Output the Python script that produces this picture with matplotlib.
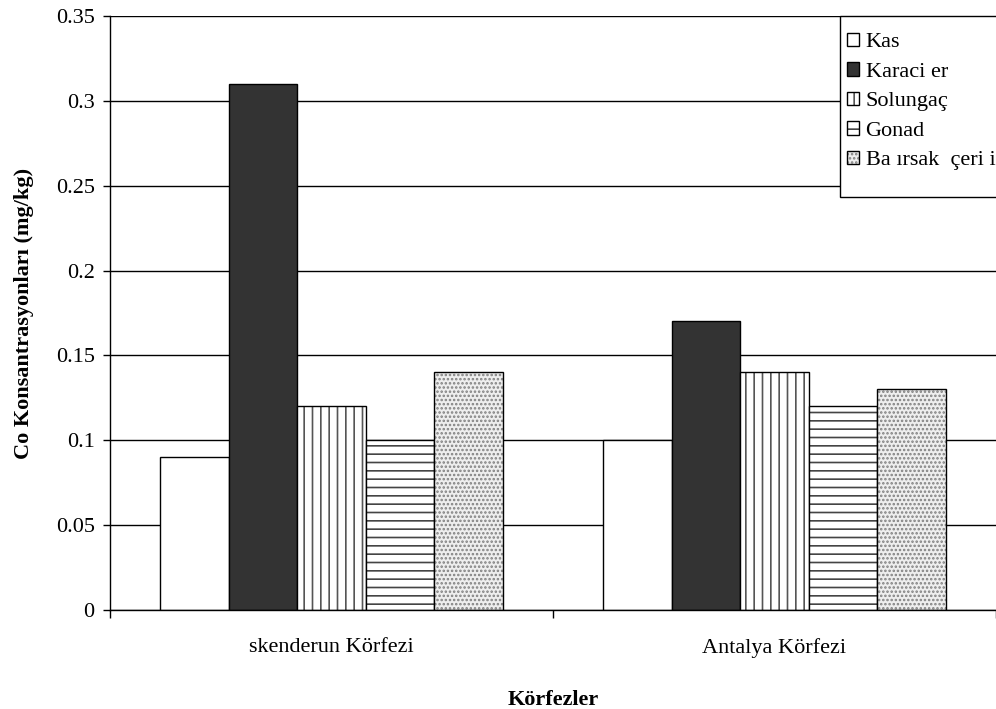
import matplotlib
matplotlib.use("Agg")
import matplotlib.pyplot as plt
from matplotlib.patches import Rectangle
import numpy as np

plt.rcParams['font.family'] = ['Liberation Serif', 'DejaVu Serif']
plt.rcParams['hatch.linewidth'] = 1.2

# Gulf names and tissue series
categories = ["skenderun Körfezi", "Antalya Körfezi"]
series_names = ["Kas", "Karaci er", "Solungaç", "Gonad", "Ba ırsak  çeri i"]
kas = [0.09, 0.10]
karaciger = [0.31, 0.17]
solungac = [0.12, 0.14]
gonad = [0.10, 0.12]
bagirsak = [0.14, 0.13]
values = [kas, karaciger, solungac, gonad, bagirsak]
yticks = [0, 0.05, 0.1, 0.15, 0.2, 0.25, 0.3, 0.35]
ytick_labels = ["0", "0.05", "0.1", "0.15", "0.2", "0.25", "0.3", "0.35"]

styles = [
    dict(facecolor="white", hatch=None, hatchcolor="black"),
    dict(facecolor="#333333", hatch=None, hatchcolor="black"),
    dict(facecolor="white", hatch="||", hatchcolor="#555555"),
    dict(facecolor="white", hatch="--", hatchcolor="#444444"),
    dict(facecolor="#eeeeee", hatch="....", hatchcolor="#808080"),
]

FS = 16
W, H = 996, 709

fig = plt.figure(figsize=(W / 100, H / 100), dpi=100)
ax = fig.add_axes([110 / W, 1 - 610 / H, 1 - 110 / W, (610 - 16) / H])

x = np.arange(len(categories))
width = 0.155
for i, (name, vals, st) in enumerate(zip(series_names, values, styles)):
    bars = ax.bar(x + (i - 2) * width, vals, width, color=st["facecolor"],
                  edgecolor="black", linewidth=1.0, label=name,
                  hatch=st["hatch"], zorder=2)
    if st["hatch"]:
        for b in bars:
            b._hatch_color = matplotlib.colors.to_rgba(st["hatchcolor"])

ax.set_xlim(-0.5, 1.5)
ax.set_ylim(0, 0.35)
ax.set_yticks(yticks)
ax.set_yticklabels(ytick_labels, fontsize=FS)
ax.yaxis.grid(True, color="black", linewidth=1.0, zorder=0)
ax.set_axisbelow(True)

ax.set_xticks(x)
ax.set_xticklabels(categories, fontsize=FS)
ax.set_xticks([-0.5, 0.5, 1.5], minor=True)
ax.tick_params(axis="x", which="major", length=0, pad=20)
ax.tick_params(axis="x", which="minor", length=6, width=1.0, direction="out")
ax.tick_params(axis="y", length=5, width=1.0, direction="out", pad=6)

for side in ["top", "right"]:
    ax.spines[side].set_visible(False)
ax.spines["left"].set_linewidth(1.0)
ax.spines["bottom"].set_linewidth(1.0)

ax.set_ylabel("Co Konsantrasyonları (mg/kg)", fontsize=FS, fontweight="bold", labelpad=16)
ax.set_xlabel("Körfezler", fontsize=FS, fontweight="bold", labelpad=23)

# Legend entries without their own frame; a plain box is drawn behind them
leg = ax.legend(loc="upper left", bbox_to_anchor=(840 / W, 1 - 26 / H),
                bbox_transform=fig.transFigure,
                fontsize=FS, frameon=False,
                handlelength=0.55, handleheight=0.55, handletextpad=0.3,
                labelspacing=0.45, borderpad=0.3, borderaxespad=0)
leg.set_zorder(6)
box = Rectangle((840 / W, 1 - 197 / H), 200 / W, 181 / H, transform=fig.transFigure,
                facecolor="white", edgecolor="black", linewidth=1.0, zorder=5,
                clip_on=False)
ax.add_patch(box)

fig.savefig("out.png", dpi=100, facecolor="white")
